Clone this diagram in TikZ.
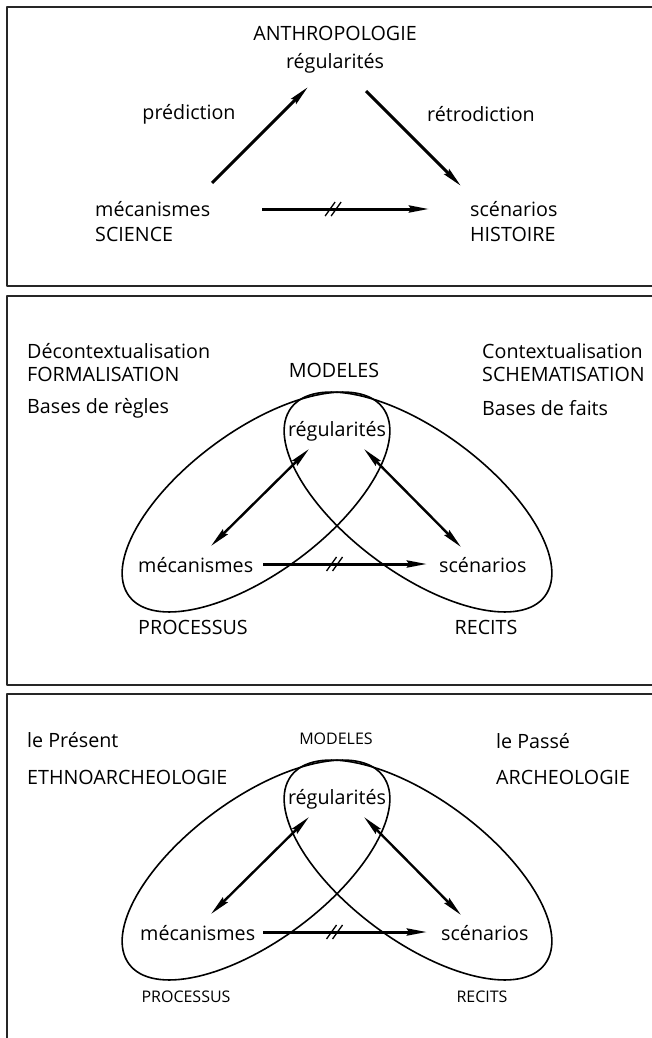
\documentclass[tikz,border=0pt]{standalone}
\usepackage{fontspec}
\setmainfont{Open Sans}
\usetikzlibrary{arrows.meta}

\tikzset{
  cadre/.style={line width=2.2pt,draw=black!85},
  mot/.style={inner sep=0pt,font=\fontsize{19.7}{21}\selectfont},
  petit/.style={inner sep=0pt,font=\fontsize{16}{18}\selectfont},
  fleche/.style={line width=3pt,-{Stealth[length=20pt,width=7pt,inset=2pt]}},
  double/.style={line width=2.4pt,{Stealth[length=20pt,width=7pt,inset=2pt]}-{Stealth[length=20pt,width=7pt,inset=2pt]}},
  boucle/.style={line width=1.6pt},
}

\begin{document}
\begin{tikzpicture}[x=1pt,y=1pt,line join=round]
  \useasboundingbox (0,0) rectangle (651,-1038);

  % first frame
  \draw[cadre] (7,-7) rectangle (670,-286);
  \node[mot] (anthro) at (335,-33) {ANTHROPOLOGIE};
  \node[mot] (reg1) at (335,-63) {régularités};
  \node[mot] (pred) at (189,-114) {prédiction};
  \node[mot] (retro) at (481,-114) {rétrodiction};
  \node[mot,anchor=west] (mec1) at (95,-209) {mécanismes};
  \node[mot,anchor=west] (sci) at (95,-234) {SCIENCE};
  \node[mot,anchor=west] (sce1) at (470,-209) {scénarios};
  \node[mot,anchor=west] (hist) at (470,-234) {HISTOIRE};
  \coordinate (m1a) at (212,-183); \coordinate (r1a) at (308,-87);
  \coordinate (r1b) at (366,-91);  \coordinate (s1b) at (461,-186);
  \coordinate (m1c) at (262,-209); \coordinate (s1c) at (429,-209);
  \draw[fleche] (m1a) -- (r1a);
  \draw[fleche] (r1b) -- (s1b);
  \draw[fleche] (m1c) -- (s1c) coordinate[pos=.42] (barre1);
  \draw[line width=1.3pt] (barre1) ++(-7,-7) -- ++(10,14) (barre1) ++(-1,-7) -- ++(10,14);

  % second frame
  \draw[cadre] (7,-296) rectangle (670,-685);
  \node[mot,anchor=west] (decon) at (27,-351) {Décontextualisation};
  \node[mot,anchor=west] (formal) at (27,-374) {FORMALISATION};
  \node[mot,anchor=west] (regles) at (27,-408) {Bases de règles};
  \node[mot] (mod2) at (334,-370) {MODELES};
  \node[mot,anchor=west] (contex) at (482,-351) {Contextualisation};
  \node[mot,anchor=west] (schema) at (482,-374) {SCHEMATISATION};
  \node[mot,anchor=west] (faits) at (482,-408) {Bases de faits};
  \draw[boucle,rotate around={36.5:(256,-502)}] (256,-502) ellipse [x radius=158,y radius=71];
  \draw[boucle,rotate around={-36.5:(418,-502)}] (418,-502) ellipse [x radius=158,y radius=71];
  \node[mot] (reg2) at (337,-431) {régularités};
  \node[mot,anchor=west] (mec2) at (138,-565) {mécanismes};
  \node[mot,anchor=west] (sce2) at (439,-565) {scénarios};
  \node[mot] (proc2) at (193,-627) {PROCESSUS};
  \node[mot] (recit2) at (486,-627) {RECITS};
  \coordinate (r2a) at (309,-449); \coordinate (m2a) at (211,-546);
  \coordinate (r2b) at (364,-449); \coordinate (s2b) at (461,-547);
  \coordinate (m2c) at (263,-564); \coordinate (s2c) at (427,-564);
  \draw[double] (r2a) -- (m2a);
  \draw[double] (r2b) -- (s2b);
  \draw[fleche] (m2c) -- (s2c) coordinate[pos=.43] (barre2);
  \draw[line width=1.3pt] (barre2) ++(-7,-7) -- ++(10,14) (barre2) ++(-1,-7) -- ++(10,14);

  % third frame
  \draw[cadre] (7,-1060) |- (670,-694);
  \node[mot,anchor=west] (present) at (27,-740) {le Présent};
  \node[mot,anchor=west] (ethno) at (27,-777) {ETHNOARCHEOLOGIE};
  \node[petit] (mod3) at (336,-739) {MODELES};
  \node[mot,anchor=west] (passe) at (496,-741) {le Passé};
  \node[mot,anchor=west] (archeo) at (496,-777) {ARCHEOLOGIE};
  \draw[boucle,rotate around={36.5:(256,-870)}] (256,-870) ellipse [x radius=158,y radius=71];
  \draw[boucle,rotate around={-36.5:(418,-870)}] (418,-870) ellipse [x radius=158,y radius=71];
  \node[mot] (reg3) at (337,-799) {régularités};
  \node[mot,anchor=west] (mec3) at (140,-933) {mécanismes};
  \node[mot,anchor=west] (sce3) at (441,-933) {scénarios};
  \node[petit] (proc3) at (186,-997) {PROCESSUS};
  \node[petit] (recit3) at (482,-997) {RECITS};
  \coordinate (r3a) at (309,-817); \coordinate (m3a) at (211,-914);
  \coordinate (r3b) at (364,-817); \coordinate (s3b) at (461,-915);
  \coordinate (m3c) at (263,-932); \coordinate (s3c) at (427,-932);
  \draw[double] (r3a) -- (m3a);
  \draw[double] (r3b) -- (s3b);
  \draw[fleche] (m3c) -- (s3c) coordinate[pos=.43] (barre3);
  \draw[line width=1.3pt] (barre3) ++(-7,-7) -- ++(10,14) (barre3) ++(-1,-7) -- ++(10,14);
\end{tikzpicture}
\end{document}
